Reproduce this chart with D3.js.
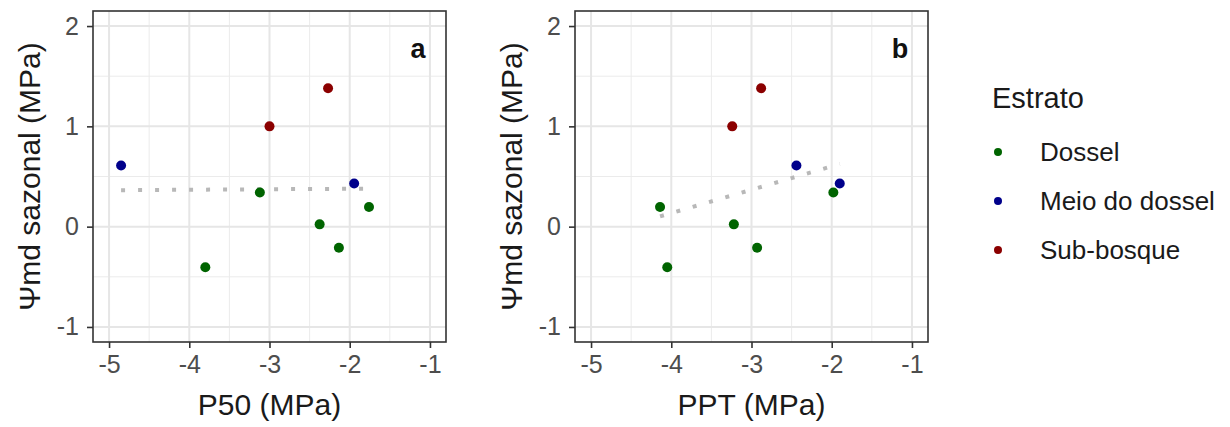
<!DOCTYPE html>
<html>
<head>
<meta charset="utf-8">
<script src="https://cdn.jsdelivr.net/npm/d3@7"></script>
<style>
  body { margin: 0; background: #fff; }
  svg { font-family: "Liberation Sans", Arial, sans-serif; }
</style>
</head>
<body>
<script>
// data
var estratos = ['Dossel', 'Meio do dossel', 'Sub-bosque'],
    cores = ['#006400', '#00008B', '#8B0000'],
    grupo = ['Dossel', 'Dossel', 'Dossel', 'Dossel', 'Dossel',
             'Meio do dossel', 'Meio do dossel', 'Sub-bosque', 'Sub-bosque'],
    psiMd = [0.34, 0.196, 0.023, -0.21, -0.405, 0.61, 0.43, 1.0, 1.38],
    p50 = [-3.12, -1.76, -2.375, -2.135, -3.8, -4.85, -1.945, -3.0, -2.27],
    ppt = [-1.98, -4.14, -3.22, -2.93, -4.05, -2.44, -1.9, -3.24, -2.88],
    xTicks = [-5, -4, -3, -2, -1],
    yTicks = [-1, 0, 1, 2],
    xMinor = [-4.5, -3.5, -2.5, -1.5],
    yMinor = [-0.5, 0.5, 1.5],
    paineis = [
      {letra: 'a', xlab: 'P50 (MPa)', x: p50, range: [93, 446], tituloY: 40},
      {letra: 'b', xlab: 'PPT (MPa)', x: ppt, range: [575, 928], tituloY: 522}
    ];

var w = 1230, h = 427;
var svg = d3.select('body').append('svg').attr('width', w).attr('height', h);

var y = d3.scaleLinear().domain([-1.15, 2.15]).range([342, 11]);
var cor = d3.scaleOrdinal().domain(estratos).range(cores);

// lm fit
function ajuste(xs, ys) {
  var mx = d3.mean(xs), my = d3.mean(ys), sxy = 0, sxx = 0;
  xs.forEach(function(v, i) { sxy += (v - mx) * (ys[i] - my); sxx += (v - mx) * (v - mx); });
  var b = sxy / sxx;
  var x0 = d3.min(xs), x1 = d3.max(xs);
  return [[x0, my + b * (x0 - mx)], [x1, my + b * (x1 - mx)]];
}

paineis.forEach(function(p) {
  var x = d3.scaleLinear().domain([-5.2, -0.8]).range(p.range);
  var g = svg.append('g');

  // grid
  g.selectAll('.vmin').data(xMinor).enter().append('line')
    .attr('x1', x).attr('x2', x).attr('y1', y.range()[0]).attr('y2', y.range()[1])
    .attr('stroke', '#EBEBEB').attr('stroke-width', 1);
  g.selectAll('.hmin').data(yMinor).enter().append('line')
    .attr('y1', y).attr('y2', y).attr('x1', x.range()[0]).attr('x2', x.range()[1])
    .attr('stroke', '#EBEBEB').attr('stroke-width', 1);
  g.selectAll('.vmaj').data(xTicks).enter().append('line')
    .attr('x1', x).attr('x2', x).attr('y1', y.range()[0]).attr('y2', y.range()[1])
    .attr('stroke', '#E6E6E6').attr('stroke-width', 2);
  g.selectAll('.hmaj').data(yTicks).enter().append('line')
    .attr('y1', y).attr('y2', y).attr('x1', x.range()[0]).attr('x2', x.range()[1])
    .attr('stroke', '#E6E6E6').attr('stroke-width', 2);

  // regression line
  var linha = ajuste(p.x, psiMd);
  g.append('path')
    .attr('d', d3.line().x(function(d) { return x(d[0]); }).y(function(d) { return y(d[1]); })(linha))
    .attr('fill', 'none')
    .attr('stroke', '#B8B8B8')
    .attr('stroke-width', 4)
    .attr('stroke-dasharray', '4,13');

  // points
  g.selectAll('circle').data(psiMd).enter().append('circle')
    .attr('cx', function(d, i) { return x(p.x[i]); })
    .attr('cy', function(d) { return y(d); })
    .attr('r', 5)
    .attr('fill', function(d, i) { return cor(grupo[i]); });

  // panel letter
  g.append('text')
    .attr('x', x(-1.15)).attr('y', y(1.77))
    .attr('text-anchor', 'middle').attr('dominant-baseline', 'central')
    .attr('font-size', 27).attr('font-weight', 'bold').attr('fill', '#111')
    .text(p.letra);

  // border
  g.append('rect')
    .attr('x', x.range()[0]).attr('y', y.range()[1])
    .attr('width', x.range()[1] - x.range()[0]).attr('height', y.range()[0] - y.range()[1])
    .attr('fill', 'none').attr('stroke', '#333').attr('stroke-width', 1.6);

  // axes
  var ax = g.append('g').attr('transform', 'translate(0,' + y.range()[0] + ')')
    .call(d3.axisBottom(x).tickValues(xTicks).tickSize(6).tickPadding(7)
      .tickFormat(function(d) { return String(d); }));
  var ay = g.append('g').attr('transform', 'translate(' + x.range()[0] + ',0)')
    .call(d3.axisLeft(y).tickValues(yTicks).tickSize(6).tickPadding(8)
      .tickFormat(function(d) { return String(d); }));
  [ax, ay].forEach(function(a) {
    a.select('.domain').remove();
    a.selectAll('line').attr('stroke', '#333').attr('stroke-width', 1.6);
    a.selectAll('text').attr('font-size', 25).attr('fill', '#4D4D4D')
      .attr('font-family', '"Liberation Sans", Arial, sans-serif');
  });

  // axis titles
  g.append('text')
    .attr('x', (x.range()[0] + x.range()[1]) / 2).attr('y', 415)
    .attr('text-anchor', 'middle').attr('font-size', 30).attr('fill', '#1a1a1a')
    .text(p.xlab);
  g.append('text')
    .attr('transform', 'translate(' + p.tituloY + ',' + (y.range()[0] + y.range()[1]) / 2 + ') rotate(-90)')
    .attr('text-anchor', 'middle').attr('font-size', 30).attr('fill', '#1a1a1a')
    .text('\u03A8md sazonal (MPa)');
});

// legend
var leg = svg.append('g');
leg.append('text').attr('x', 992).attr('y', 108)
  .attr('font-size', 29).attr('fill', '#1a1a1a').text('Estrato');
var itens = leg.selectAll('g.item').data(estratos).enter().append('g')
  .attr('transform', function(d, i) { return 'translate(998,' + (152 + i * 49) + ')'; })
  .classed('item', true);
itens.append('circle').attr('r', 4).attr('fill', function(d) { return cor(d); });
itens.append('text').attr('x', 42).attr('dominant-baseline', 'central')
  .attr('font-size', 26).attr('fill', '#1a1a1a').text(function(d) { return d; });
</script>
</body>
</html>
